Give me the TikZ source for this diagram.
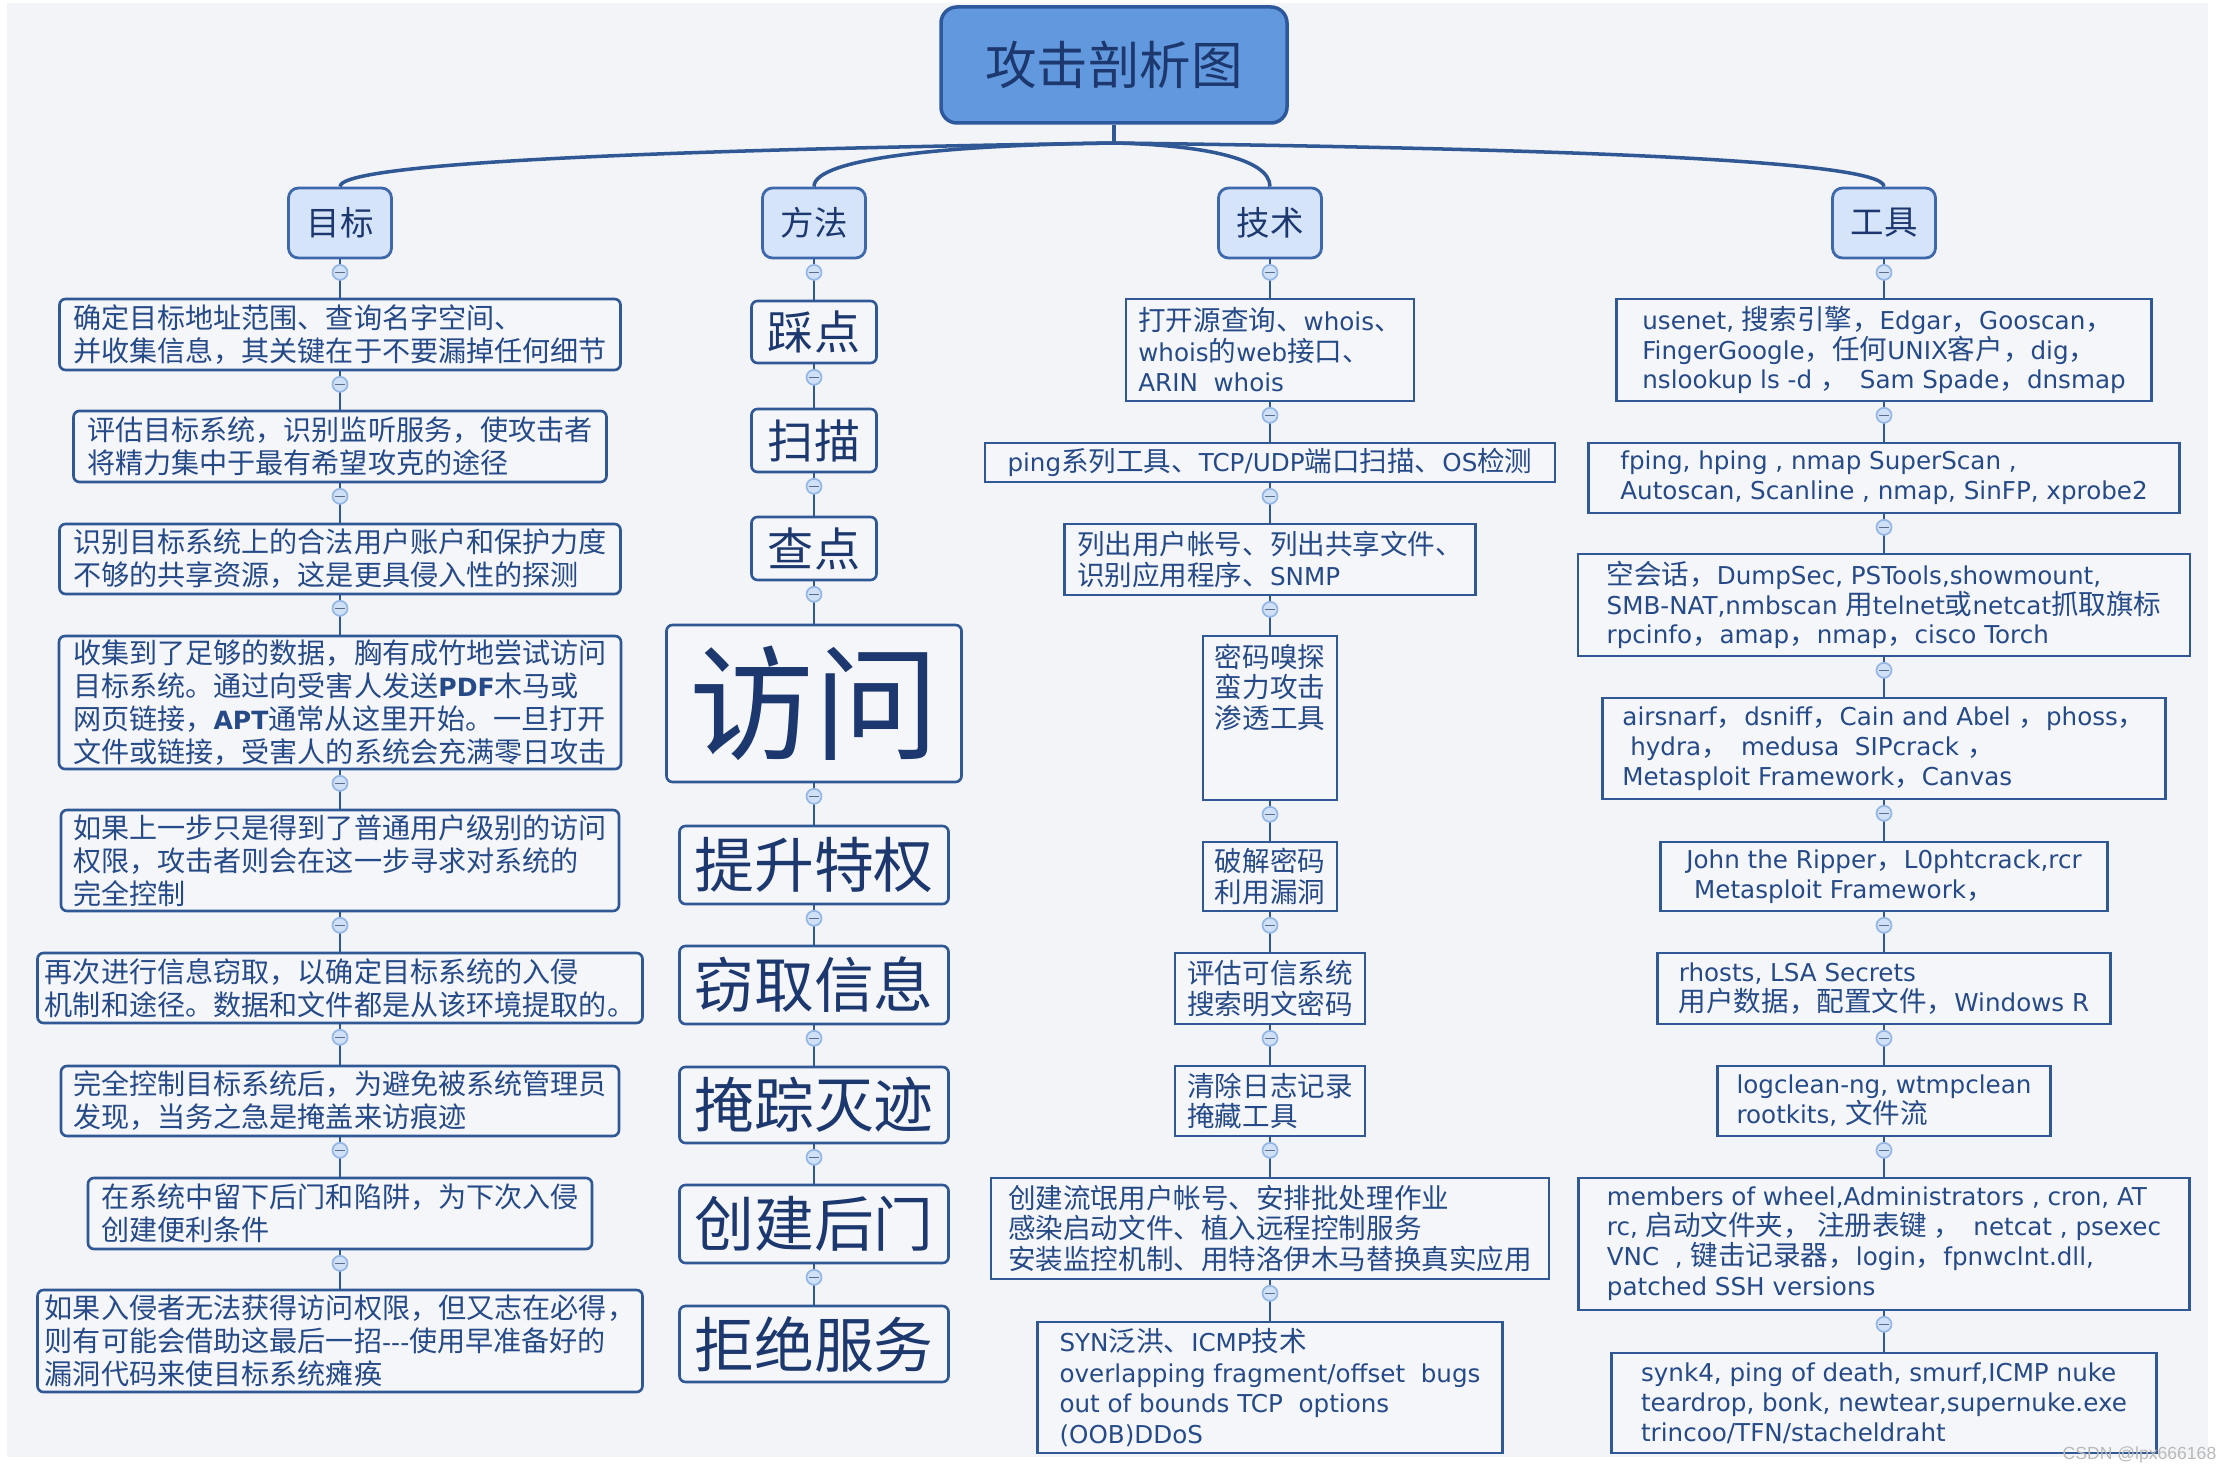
\documentclass[tikz,border=0pt]{standalone}
\usepackage{fontspec}
\setmainfont{DejaVu Sans}
\newfontfamily\cjkfam[Scale=1.12]{Noto Sans CJK SC}
\newfontfamily\markfont{Liberation Sans}

% switch fonts between latin and cjk runs
\XeTeXinterchartokenstate=1
\newXeTeXintercharclass\cjkclass
\newcommand\setcjkrange[2]{%
  \count255=#1
  \loop
    \XeTeXcharclass\count255=\cjkclass
    \ifnum\count255<#2 \advance\count255 by 1
  \repeat}
\setcjkrange{"3000}{"303F}
\setcjkrange{"4E00}{"9FFF}
\setcjkrange{"FF00}{"FFEF}
\def\curcjk{\cjkfam}
\def\curlatin{\rmfamily}
\XeTeXinterchartoks 0 \cjkclass = {\curcjk}
\XeTeXinterchartoks 4095 \cjkclass = {\curcjk}
\XeTeXinterchartoks \cjkclass 0 = {\curlatin}
\XeTeXinterchartoks 4095 0 = {\curlatin}

\definecolor{bgcol}{RGB}{242,244,248}
\definecolor{rootfill}{RGB}{98,153,222}
\definecolor{rootedge}{RGB}{46,88,156}
\definecolor{headfill}{RGB}{214,228,250}
\definecolor{headedge}{RGB}{62,104,172}
\definecolor{leaffill}{RGB}{244,246,250}
\definecolor{edge}{RGB}{48,88,148}
\definecolor{txtblue}{RGB}{38,74,135}
\definecolor{txtdark}{RGB}{28,56,110}
\definecolor{foldfill}{RGB}{208,224,246}
\definecolor{foldedge}{RGB}{150,184,230}

\tikzset{
  sz/.style 2 args={minimum width=#1cm, minimum height=#2cm},
  rootbox/.style={draw=rootedge, fill=rootfill, line width=1pt, rounded corners=0.16cm, text=txtdark, inner sep=0pt, font=\fontsize{13.1}{15}\selectfont},
  headbox/.style={draw=headedge, fill=headfill, line width=0.8pt, rounded corners=0.1cm, text=txtdark, inner sep=0pt, font=\fontsize{8.5}{10}\selectfont},
  leaf/.style={draw=edge, fill=leaffill, line width=0.75pt, text=txtblue, inner sep=0pt, align=left},
  goalbox/.style={leaf, rounded corners=0.06cm, font=\fontsize{7.14}{9.4}\selectfont},
  methbox/.style={leaf, rounded corners=0.06cm, align=center, text=txtdark, font=\fontsize{15.2}{18}\selectfont},
  methsmall/.style={methbox, font=\fontsize{11.7}{14}\selectfont},
  techbox/.style={leaf, font=\fontsize{7}{8.7}\selectfont},
  toolbox/.style={leaf, font=\fontsize{7}{8.5}\selectfont},
  trunk/.style={draw=edge, line width=1pt},
  link/.style={draw=edge, line width=0.75pt},
  fold/.style={circle, draw=foldedge, fill=foldfill, line width=0.5pt, minimum size=0.15cm, inner sep=0pt, text=foldedge!60!black},
  wmark/.style={text=gray!55, inner sep=0pt, font={\def\curlatin{\markfont}\markfont\fontsize{5}{6}\selectfont}}
}

\begin{document}
\begin{tikzpicture}
    % page and backdrop
    \useasboundingbox (0,0) rectangle (22.25,-14.70);
    \fill[white] (0,0) rectangle (22.25,-14.70);
    \fill[bgcol] (0.07,-0.03) rectangle (22.08,-14.57);

    % root and the four headings
    \node[rootbox, sz={3.46}{1.16}] (root) at (11.14,-0.65) {攻击剖析图};
    \node[headbox, sz={1.03}{0.70}] (goal) at (3.40,-2.23) {目标};
    \node[headbox, sz={1.03}{0.70}] (meth) at (8.14,-2.23) {方法};
    \node[headbox, sz={1.03}{0.70}] (tech) at (12.70,-2.23) {技术};
    \node[headbox, sz={1.03}{0.70}] (tool) at (18.84,-2.23) {工具};

    \coordinate (hub) at (11.14,-1.43);
    \draw[trunk] (root.south) -- (hub);
    \draw[trunk] (hub) .. controls (8.00,-1.48) and (3.40,-1.58) .. (goal.north);
    \draw[trunk] (hub) .. controls (9.50,-1.45) and (8.14,-1.58) .. (meth.north);
    \draw[trunk] (hub) .. controls (12.00,-1.45) and (12.70,-1.58) .. (tech.north);
    \draw[trunk] (hub) .. controls (15.00,-1.48) and (18.84,-1.58) .. (tool.north);

    % goals
    \node[goalbox, sz={5.61}{0.71}] (goal1) at (3.40,-3.345) {确定目标地址范围、查询名字空间、\\并收集信息，其关键在于不要漏掉任何细节};
    \node[goalbox, sz={5.33}{0.71}] (goal2) at (3.40,-4.465) {评估目标系统，识别监听服务，使攻击者\\将精力集中于最有希望攻克的途径};
    \node[goalbox, sz={5.61}{0.70}] (goal3) at (3.40,-5.59) {识别目标系统上的合法用户账户和保护力度\\不够的共享资源，这是更具侵入性的探测};
    \node[goalbox, sz={5.62}{1.33}] (goal4) at (3.40,-7.025) {收集到了足够的数据，胸有成竹地尝试访问\\目标系统。通过向受害人发送{\bfseries PDF}木马或\\网页链接，{\bfseries APT}通常从这里开始。一旦打开\\文件或链接，受害人的系统会充满零日攻击};
    \node[goalbox, sz={5.58}{1.01}] (goal5) at (3.40,-8.605) {如果上一步只是得到了普通用户级别的访问\\权限，攻击者则会在这一步寻求对系统的\\完全控制};
    \node[goalbox, sz={6.05}{0.70}] (goal6) at (3.40,-9.88) {再次进行信息窃取，以确定目标系统的入侵\\机制和途径。数据和文件都是从该环境提取的。};
    \node[goalbox, sz={5.58}{0.70}] (goal7) at (3.40,-11.01) {完全控制目标系统后，为避免被系统管理员\\发现，当务之急是掩盖来访痕迹};
    \node[goalbox, sz={5.04}{0.71}] (goal8) at (3.40,-12.135) {在系统中留下后门和陷阱，为下次入侵\\创建便利条件};
    \node[goalbox, sz={6.05}{1.02}] (goal9) at (3.40,-13.41) {如果入侵者无法获得访问权限，但又志在必得，\\则有可能会借助这最后一招-{}-{}-使用早准备好的\\漏洞代码来使目标系统瘫痪};

    % methods
    \node[methsmall, sz={1.25}{0.62}] (meth1) at (8.14,-3.32) {踩点};
    \node[methsmall, sz={1.25}{0.63}] (meth2) at (8.14,-4.405) {扫描};
    \node[methsmall, sz={1.25}{0.63}] (meth3) at (8.14,-5.485) {查点};
    \node[methbox, sz={2.95}{1.57}, font=\fontsize{31.7}{36}\selectfont] (meth4) at (8.14,-7.035) {访问};
    \node[methbox, sz={2.69}{0.78}] (meth5) at (8.14,-8.65) {提升特权};
    \node[methbox, sz={2.69}{0.78}] (meth6) at (8.14,-9.85) {窃取信息};
    \node[methbox, sz={2.69}{0.76}] (meth7) at (8.14,-11.05) {掩踪灭迹};
    \node[methbox, sz={2.69}{0.78}] (meth8) at (8.14,-12.24) {创建后门};
    \node[methbox, sz={2.69}{0.76}] (meth9) at (8.14,-13.44) {拒绝服务};

    % techniques
    \node[techbox, sz={2.88}{1.02}] (tech1) at (12.70,-3.50) {打开源查询、whois、\\whois的web接口、\\ARIN~~whois};
    \node[techbox, sz={5.70}{0.39}] (tech2) at (12.70,-4.625) {ping系列工具、TCP/UDP端口扫描、OS检测};
    \node[techbox, sz={4.11}{0.71}] (tech3) at (12.70,-5.595) {列出用户帐号、列出共享文件、\\识别应用程序、SNMP};
    \node[techbox, sz={1.34}{1.64}] (tech4) at (12.70,-7.18) {};
    \node[techbox, draw=none, fill=none, anchor=north] (tech4txt) at ([yshift=-0.08cm]tech4.north) {密码嗅探\\蛮力攻击\\渗透工具};
    \node[techbox, sz={1.34}{0.69}] (tech5) at (12.70,-8.765) {破解密码\\利用漏洞};
    \node[techbox, sz={1.90}{0.71}] (tech6) at (12.70,-9.885) {评估可信系统\\搜索明文密码};
    \node[techbox, sz={1.90}{0.70}] (tech7) at (12.70,-11.01) {清除日志记录\\掩藏工具};
    \node[techbox, sz={5.58}{1.01}] (tech8) at (12.70,-12.285) {创建流氓用户帐号、安排批处理作业\\感染启动文件、植入远程控制服务\\安装监控机制、用特洛伊木马替换真实应用};
    \node[techbox, sz={4.65}{1.31}] (tech9) at (12.70,-13.875) {SYN泛洪、ICMP技术\\overlapping fragment/offset~~bugs\\out of bounds TCP~~options\\(OOB)DDoS};

    % tools
    \node[toolbox, sz={5.35}{1.02}] (tool1) at (18.84,-3.50) {usenet, 搜索引擎，Edgar，Gooscan，\\FingerGoogle，任何UNIX客户，dig，\\nslookup ls -d ，~~Sam Spade，dnsmap};
    \node[toolbox, sz={5.91}{0.70}] (tool2) at (18.84,-4.78) {fping, hping , nmap SuperScan ,\\Autoscan, Scanline , nmap, SinFP, xprobe2};
    \node[toolbox, sz={6.12}{1.02}] (tool3) at (18.84,-6.05) {空会话，DumpSec, PSTools,showmount,\\SMB-NAT,nmbscan 用telnet或netcat抓取旗标\\rpcinfo，amap，nmap，cisco Torch};
    \node[toolbox, sz={5.63}{1.01}] (tool4) at (18.84,-7.485) {airsnarf，dsniff，Cain and Abel ，phoss，\\~hydra，~~medusa~~SIPcrack ，\\Metasploit Framework，Canvas};
    \node[toolbox, sz={4.47}{0.69}] (tool5) at (18.84,-8.765) {John the Ripper，L0phtcrack,rcr\\~Metasploit Framework，};
    \node[toolbox, sz={4.53}{0.71}] (tool6) at (18.84,-9.885) {rhosts, LSA Secrets\\用户数据，配置文件，Windows R};
    \node[toolbox, sz={3.33}{0.70}] (tool7) at (18.84,-11.01) {logclean-ng, wtmpclean\\rootkits, 文件流};
    \node[toolbox, sz={6.11}{1.32}] (tool8) at (18.84,-12.44) {members of wheel,Administrators , cron, AT\\rc, 启动文件夹， 注册表键 ，~~netcat , psexec\\VNC~~, 键击记录器，login，fpnwclnt.dll,\\patched SSH versions};
    \node[toolbox, sz={5.45}{1.00}] (tool9) at (18.84,-14.03) {synk4, ping of death, smurf,ICMP nuke\\teardrop, bonk, newtear,supernuke.exe\\trincoo/TFN/stacheldraht};

    % stems with fold markers
    \foreach \col in {goal,meth,tech,tool} {
        \draw[link] (\col.south) -- (\col1.north);
        \node[fold] (\col0-f) at ([yshift=-0.13cm]\col.south) {\rule[-0.2pt]{2.6pt}{0.4pt}};
        \foreach \i [count=\j from 2] in {1,...,8} {
            \draw[link] (\col\i.south) -- (\col\j.north);
            \node[fold] (\col\i-f) at ([yshift=-0.13cm]\col\i.south) {\rule[-0.2pt]{2.6pt}{0.4pt}};
        }
    }

    \node[wmark, anchor=east] (wm) at (22.17,-14.55) {CSDN @lpx666168};
\end{tikzpicture}
\end{document}
